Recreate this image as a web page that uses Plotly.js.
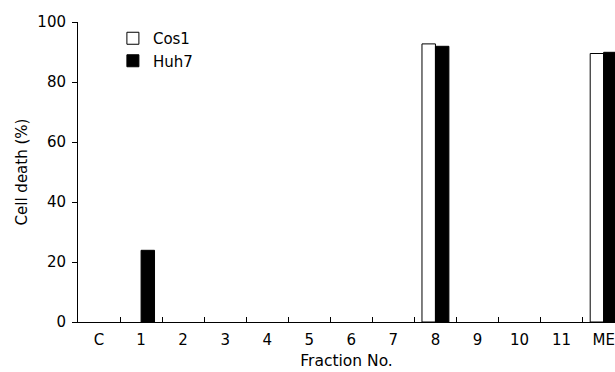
<!DOCTYPE html>
<html>
<head>
<meta charset="utf-8">
<script src="https://cdn.plot.ly/plotly-3.0.1.min.js"></script>
<style>html,body{margin:0;padding:0;background:#fff;}#chart{width:615px;height:372px;}</style>
</head>
<body>
<div id="chart"></div>
<script>
const categories = ["C", "1", "2", "3", "4", "5", "6", "7", "8", "9", "10", "11", "ME"];
const cos1Values = [0, 0, 0, 0, 0, 0, 0, 0, 92.7, 0, 0, 0, 89.5];
const huh7Values = [0, 23.9, 0, 0, 0, 0, 0, 0, 91.9, 0, 0, 0, 89.9];
const seriesNames = ["Cos1", "Huh7"];
const yTicks = [0, 20, 40, 60, 80, 100];

const FONT = "DejaVu Sans, Verdana, sans-serif";
// zero-height bars are not drawn (no outline stub on the axis)
const drawn = vals => vals.map(v => (v > 0 ? v : null));

const traces = [
  {
    type: "bar", name: seriesNames[0], x: categories, y: drawn(cos1Values),
    marker: {color: "#ffffff", line: {color: "#000000", width: 1}}
  },
  {
    type: "bar", name: seriesNames[1], x: categories, y: drawn(huh7Values),
    marker: {color: "#000000", line: {color: "#000000", width: 1}}
  }
];

const layout = {
  width: 615, height: 372,
  margin: {l: 78, r: 0, t: 22, b: 50, pad: 0},
  paper_bgcolor: "#ffffff", plot_bgcolor: "#ffffff",
  font: {family: FONT, size: 15, color: "#000000"},
  barmode: "group", bargap: 0.36, bargroupgap: 0,
  showlegend: true,
  legend: {
    x: 0.065, y: 1.0, xanchor: "left", yanchor: "top",
    bgcolor: "rgba(0,0,0,0)", borderwidth: 0,
    font: {family: FONT, size: 15, color: "#000000"},
    tracegroupgap: 0, itemwidth: 30
  },
  xaxis: {
    type: "category", categoryorder: "array", categoryarray: categories,
    range: [-0.5, 12.27],
    showline: true, linecolor: "#000000", linewidth: 1,
    ticks: "inside", tickson: "boundaries", ticklen: 5, tickcolor: "#000000", tickwidth: 1,
    ticklabelstandoff: 4,
    showgrid: false, zeroline: false,
    tickfont: {family: FONT, size: 15, color: "#000000"},
    title: {text: "Fraction No.", font: {family: FONT, size: 15.5, color: "#000000"}, standoff: 7}
  },
  yaxis: {
    range: [0, 100], tickvals: yTicks, ticktext: yTicks.map(String),
    showline: true, linecolor: "#000000", linewidth: 1,
    ticks: "outside", ticklen: 5, tickcolor: "#000000", tickwidth: 1,
    ticklabelstandoff: 3,
    showgrid: false, zeroline: false,
    tickfont: {family: FONT, size: 15, color: "#000000"},
    title: {text: "Cell death (%)", font: {family: FONT, size: 15, color: "#000000"}, standoff: 6}
  }
};

Plotly.newPlot("chart", traces, layout, {displayModeBar: false, staticPlot: true});
</script>
</body>
</html>
